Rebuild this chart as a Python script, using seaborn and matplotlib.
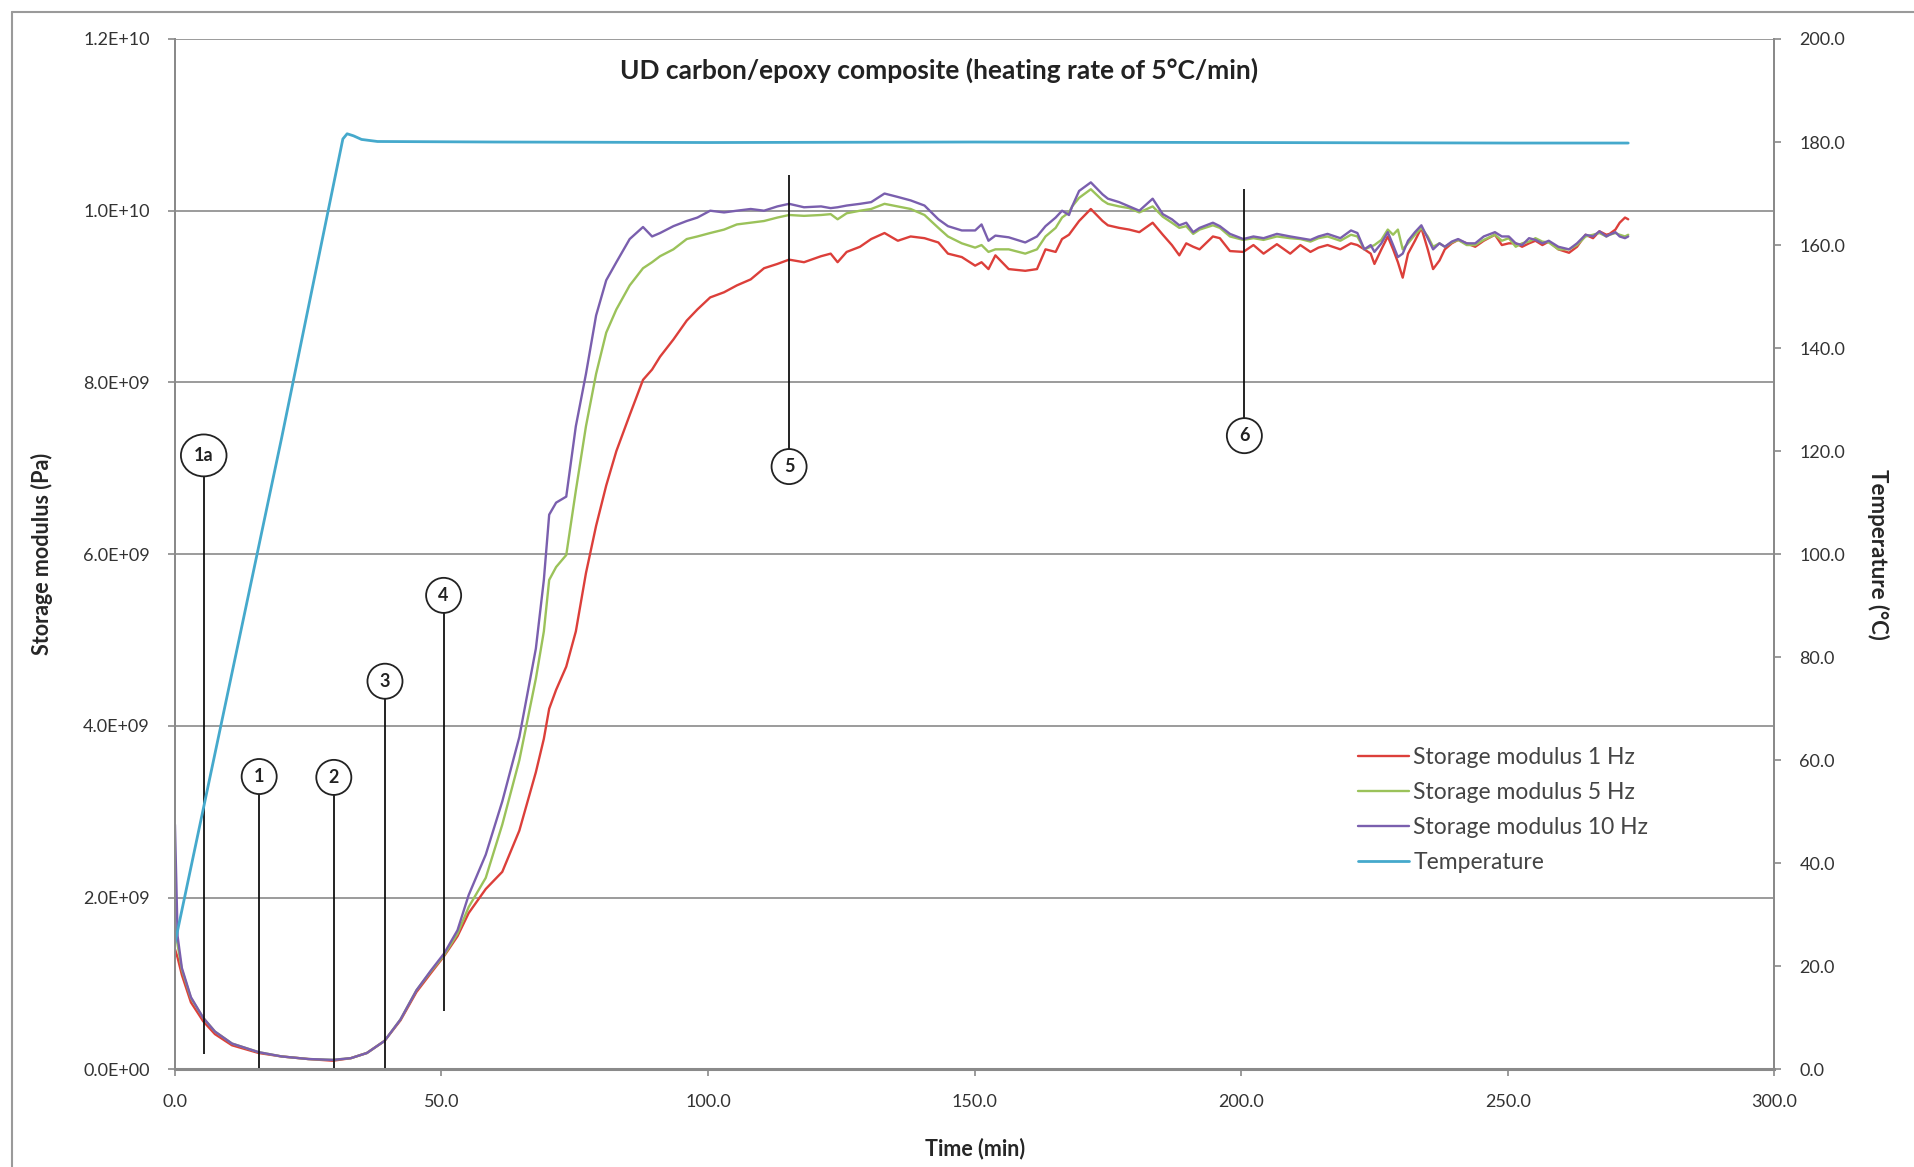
import numpy as np
import pandas as pd
import seaborn as sns
import matplotlib.pyplot as plt
from matplotlib.ticker import FuncFormatter, MultipleLocator
from matplotlib.lines import Line2D

# time axis (min) shared by the three storage modulus series
time_min = [0, 0.5, 1.3, 3, 5.3, 7.5, 10.7, 15.7, 20, 25, 29.6, 33, 36, 39.3, 42.3, 45.3, 48, 50.5, 53,
            55.1, 58.3, 61.4, 64.6, 67.7, 69.2, 70.2, 71.5, 73.4, 75.2, 77.1, 79.0, 80.9, 82.8, 85.3,
            87.8, 89.5, 91, 93.5, 96, 98, 100.4, 103, 105.4, 108, 110.5, 113, 115.2, 118, 121.2, 123,
            124.3, 126, 128.5, 130.6, 133.1, 135.6, 138, 140.6, 143.2, 145, 147.6, 150.1, 151.3, 152.6,
            153.9, 156.4, 159.5, 161.7, 163.3, 165.2, 166.4, 167.7, 168.3, 169.6, 171.8, 174, 175, 177.1,
            179, 180.9, 183.4, 185.3, 187, 188.4, 189.7, 191, 192.2, 194.7, 196, 197.9, 200.4, 202.3,
            204.2, 206.7, 209.2, 211.1, 213, 214.5, 216.2, 218.6, 220.6, 221.8, 223.1, 224.3, 225, 226.3,
            227.5, 228.5, 229.4, 230.3, 231.3, 232.6, 233.8, 235, 236, 237.2, 238.2, 239.5, 240.7, 242.3,
            243.9, 245.5, 247.6, 248.9, 250.2, 251.5, 252.7, 254, 255.2, 256.5, 257.7, 259.5, 261.5, 263,
            264.6, 266, 267.2, 268.5, 269.1, 270.2, 271, 272, 272.6]

# storage modulus in units of 1e9 Pa
mod_10hz = [2.85, 1.55, 1.18, 0.84, 0.60, 0.44, 0.30, 0.20, 0.15, 0.12, 0.11, 0.13, 0.19, 0.33, 0.58, 0.92,
            1.15, 1.35, 1.62, 2.03, 2.50, 3.12, 3.87, 4.90, 5.70, 6.46, 6.60, 6.67, 7.49, 8.10, 8.78, 9.19,
            9.40, 9.67, 9.81, 9.70, 9.74, 9.82, 9.88, 9.92, 10.00, 9.98, 10.00, 10.02, 10.00, 10.05, 10.08,
            10.04, 10.05, 10.03, 10.04, 10.06, 10.08, 10.10, 10.20, 10.16, 10.12, 10.06, 9.90, 9.82, 9.77,
            9.77, 9.84, 9.65, 9.71, 9.69, 9.63, 9.70, 9.82, 9.92, 10.00, 9.95, 10.05, 10.23, 10.33, 10.19,
            10.14, 10.10, 10.05, 10.00, 10.14, 9.96, 9.90, 9.83, 9.86, 9.75, 9.80, 9.86, 9.82, 9.73, 9.67,
            9.70, 9.68, 9.73, 9.70, 9.68, 9.66, 9.70, 9.73, 9.68, 9.77, 9.74, 9.55, 9.60, 9.52, 9.62, 9.75,
            9.60, 9.46, 9.50, 9.65, 9.75, 9.83, 9.68, 9.55, 9.62, 9.58, 9.64, 9.67, 9.62, 9.62, 9.70, 9.75,
            9.70, 9.70, 9.62, 9.60, 9.68, 9.66, 9.62, 9.65, 9.58, 9.55, 9.62, 9.72, 9.70, 9.76, 9.70, 9.72,
            9.75, 9.70, 9.68, 9.70]
mod_5hz = [1.70, 1.45, 1.16, 0.83, 0.60, 0.44, 0.30, 0.20, 0.15, 0.12, 0.11, 0.13, 0.19, 0.33, 0.58, 0.92,
           1.14, 1.33, 1.58, 1.89, 2.23, 2.85, 3.60, 4.55, 5.10, 5.70, 5.85, 5.99, 6.74, 7.49, 8.10, 8.58,
           8.85, 9.13, 9.33, 9.40, 9.47, 9.55, 9.67, 9.70, 9.74, 9.78, 9.84, 9.86, 9.88, 9.92, 9.95, 9.94,
           9.95, 9.96, 9.90, 9.97, 10.00, 10.02, 10.08, 10.05, 10.02, 9.95, 9.80, 9.70, 9.62, 9.57, 9.60,
           9.52, 9.55, 9.55, 9.50, 9.55, 9.70, 9.80, 9.92, 9.98, 10.05, 10.15, 10.25, 10.12, 10.08, 10.05,
           10.03, 9.98, 10.05, 9.93, 9.86, 9.80, 9.82, 9.73, 9.78, 9.83, 9.80, 9.70, 9.66, 9.68, 9.66, 9.70,
           9.68, 9.67, 9.64, 9.68, 9.70, 9.65, 9.72, 9.70, 9.55, 9.58, 9.60, 9.66, 9.78, 9.72, 9.78, 9.55,
           9.62, 9.72, 9.80, 9.70, 9.58, 9.62, 9.58, 9.63, 9.66, 9.60, 9.60, 9.66, 9.72, 9.65, 9.68, 9.58,
           9.62, 9.64, 9.68, 9.64, 9.63, 9.55, 9.55, 9.60, 9.70, 9.72, 9.74, 9.70, 9.72, 9.74, 9.72, 9.70,
           9.72]
mod_1hz = [1.40, 1.30, 1.10, 0.78, 0.56, 0.41, 0.28, 0.19, 0.15, 0.12, 0.10, 0.13, 0.19, 0.33, 0.57, 0.90,
           1.12, 1.32, 1.55, 1.82, 2.10, 2.30, 2.78, 3.46, 3.85, 4.20, 4.42, 4.69, 5.10, 5.78, 6.33, 6.80,
           7.20, 7.62, 8.03, 8.15, 8.30, 8.50, 8.72, 8.85, 8.99, 9.05, 9.13, 9.20, 9.33, 9.38, 9.43, 9.40,
           9.47, 9.50, 9.40, 9.52, 9.58, 9.67, 9.74, 9.65, 9.70, 9.68, 9.63, 9.50, 9.46, 9.36, 9.40, 9.32,
           9.48, 9.32, 9.30, 9.32, 9.55, 9.52, 9.67, 9.72, 9.77, 9.88, 10.02, 9.88, 9.83, 9.80, 9.78, 9.75,
           9.86, 9.72, 9.60, 9.48, 9.62, 9.58, 9.55, 9.70, 9.68, 9.53, 9.52, 9.60, 9.50, 9.61, 9.50, 9.60,
           9.52, 9.57, 9.60, 9.55, 9.62, 9.60, 9.55, 9.50, 9.38, 9.55, 9.70, 9.55, 9.40, 9.22, 9.50, 9.65,
           9.80, 9.55, 9.32, 9.42, 9.55, 9.62, 9.66, 9.62, 9.58, 9.65, 9.72, 9.60, 9.62, 9.62, 9.58, 9.62,
           9.65, 9.60, 9.64, 9.55, 9.51, 9.58, 9.72, 9.68, 9.76, 9.72, 9.73, 9.78, 9.86, 9.92, 9.90]

# temperature (degC)
temp_time = [0, 10, 20, 31.5, 32.3, 33.5, 35, 38, 60, 100, 150, 200, 250, 272.6]
temp_c = [24.5, 73.5, 122.5, 180.6, 181.6, 181.2, 180.5, 180.1, 180.0, 179.9, 180.0, 179.9, 179.8, 179.8]

# numbered stage markers
ann_labels = ['1a', '1', '2', '3', '4', '5', '6']
ann_time = [5.4, 15.8, 29.8, 39.4, 50.4, 115.2, 200.6]
ann_label_e = [7.15, 3.41, 3.40, 4.52, 5.52, 7.02, 7.38]
ann_line_lo = [0.18, 0.0, 0.0, 0.0, 0.68, 7.02, 7.38]
ann_line_hi = [7.15, 3.41, 3.40, 4.52, 5.52, 10.42, 10.25]

df = pd.DataFrame({'time': time_min,
                   'E1': np.array(mod_1hz) * 1e9,
                   'E5': np.array(mod_5hz) * 1e9,
                   'E10': np.array(mod_10hz) * 1e9})
dft = pd.DataFrame({'time': temp_time, 'temp': temp_c})

sns.set_style("white")
plt.rcParams['font.family'] = ['Lato', 'DejaVu Sans']

fig = plt.figure(figsize=(19.14, 11.67), dpi=100)
ax = fig.add_axes([0.0914, 0.0837, 0.8356, 0.8829])
ax2 = ax.twinx()

sns.lineplot(data=df, x='time', y='E1', ax=ax, color='#dc3f3a', lw=1.7, label='Storage modulus 1 Hz', sort=False)
sns.lineplot(data=df, x='time', y='E5', ax=ax, color='#9bc25a', lw=1.7, label='Storage modulus 5 Hz', sort=False)
sns.lineplot(data=df, x='time', y='E10', ax=ax, color='#7a5fae', lw=1.7, label='Storage modulus 10 Hz', sort=False)
sns.lineplot(data=dft, x='time', y='temp', ax=ax2, color='#45a9cc', lw=2.0, label='Temperature', sort=False)

ax.set_xlim(0, 300)
ax.set_ylim(0, 1.2e10)
ax2.set_ylim(0, 200)
ax.xaxis.set_major_locator(MultipleLocator(50))
ax.yaxis.set_major_locator(MultipleLocator(2e9))
ax2.yaxis.set_major_locator(MultipleLocator(20))
ax.xaxis.set_major_formatter(FuncFormatter(lambda v, p: f"{v:.1f}"))
ax.yaxis.set_major_formatter(FuncFormatter(lambda v, p: f"{v:.1E}"))
ax2.yaxis.set_major_formatter(FuncFormatter(lambda v, p: f"{v:.1f}"))

ax.grid(axis='y', color='#8a8a8a', lw=1.2)
ax.grid(axis='x', visible=False)
for a in (ax, ax2):
    a.spines['top'].set_visible(False)
    for s in ('left', 'right', 'bottom'):
        a.spines[s].set_color('#8a8a8a')
        a.spines[s].set_linewidth(1.4)
ax.spines['bottom'].set_linewidth(2.2)
ax.tick_params(axis='both', direction='out', length=5, width=1.2, color='#8a8a8a',
               labelsize=13, labelcolor='#333333', pad=13)
ax.tick_params(axis='y', left=True)
ax.tick_params(axis='x', bottom=True)
ax2.tick_params(axis='y', direction='out', length=5, width=1.2, color='#8a8a8a',
                labelsize=13, labelcolor='#333333', pad=13, right=True)

ax.set_xlabel('Time (min)', fontsize=15.5, fontweight='bold')
ax.set_ylabel('Storage modulus (Pa)', fontsize=15.5, fontweight='bold')
ax2.set_ylabel('Temperature (°C)', fontsize=16, fontweight='bold', rotation=270, va='bottom')
ax.xaxis.set_label_coords(0.5, -0.066)
ax.yaxis.set_label_coords(-0.076, 0.5)
ax2.yaxis.set_label_coords(1.058, 0.5)

ax.text(0.478, 0.97, 'UD carbon/epoxy composite (heating rate of 5°C/min)', transform=ax.transAxes,
        ha='center', va='center', fontsize=19, fontweight='bold', color='#222222')

# stage markers
ax.vlines(ann_time, np.array(ann_line_lo) * 1e9, np.array(ann_line_hi) * 1e9, color='#111111', lw=1.3, zorder=4)
for lab, t, e in zip(ann_labels, ann_time, ann_label_e):
    style = 'ellipse,pad=0.35' if len(lab) > 1 else 'circle,pad=0.5'
    ax.text(t, e * 1e9, lab, ha='center', va='center', fontsize=13, fontweight='bold', color='#222222',
            zorder=6, bbox=dict(boxstyle=style, fc='white', ec='#222222', lw=1.3))

h1, l1 = ax.get_legend_handles_labels()
h2, l2 = ax2.get_legend_handles_labels()
if ax.get_legend():
    ax.get_legend().remove()
ax2.legend(h1 + h2, l1 + l2, loc='upper left', bbox_to_anchor=(0.727, 0.333), frameon=False,
           fontsize=16.5, handlelength=2.2, handletextpad=0.2, labelspacing=0.62, labelcolor='#444444')

# chart area border (top and left edges visible)
fig.add_artist(Line2D([12 / 1914, 12 / 1914], [0, 1 - 12 / 1167], transform=fig.transFigure, color='#9a9a9a', lw=1.5))
fig.add_artist(Line2D([12 / 1914, 1], [1 - 12 / 1167, 1 - 12 / 1167], transform=fig.transFigure, color='#9a9a9a', lw=1.5))

fig.savefig('out.png', dpi=100)
